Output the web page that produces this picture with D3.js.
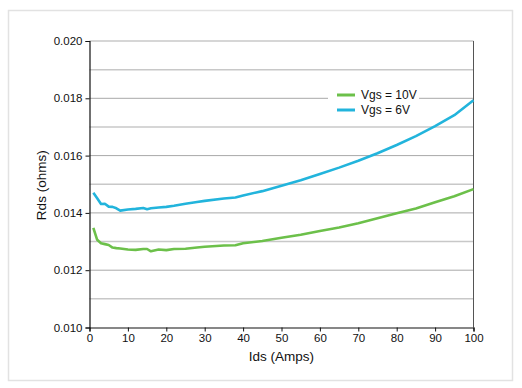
<!DOCTYPE html>
<html>
<head>
<meta charset="utf-8">
<script src="https://cdn.jsdelivr.net/npm/d3@7"></script>
<style>
  body { margin: 0; background: #fff; }
  svg { display: block; font-family: "Liberation Sans", Arial, Helvetica, sans-serif; }
</style>
</head>
<body>
<svg id="chart" width="522" height="388"></svg>
<script>
// currents (A) where the curves were read
const ids = [1, 2, 3, 4, 5, 6, 7, 8, 10, 12, 14, 15, 16, 18, 20, 22, 25, 28, 30, 35, 38, 40, 45, 50, 55, 60, 65, 70, 75, 80, 85, 90, 95, 100];
const rds10 = [0.01348, 0.01306, 0.01294, 0.01291, 0.01288, 0.01279, 0.01277, 0.01276, 0.01272, 0.01271, 0.01274, 0.01274, 0.01266, 0.01272, 0.01270, 0.01274, 0.01275, 0.01279, 0.01282, 0.01286, 0.01287, 0.01294, 0.01302, 0.01313, 0.01324, 0.01337, 0.01349, 0.01364, 0.01381, 0.01399, 0.01415, 0.01437, 0.01458, 0.01483];
const rds6 = [0.01470, 0.01451, 0.01431, 0.01432, 0.01422, 0.01421, 0.01416, 0.01408, 0.01412, 0.01414, 0.01417, 0.01413, 0.01416, 0.01419, 0.01421, 0.01425, 0.01432, 0.01438, 0.01442, 0.01450, 0.01454, 0.01461, 0.01476, 0.01495, 0.01514, 0.01536, 0.01558, 0.01582, 0.01608, 0.01637, 0.01668, 0.01703, 0.01741, 0.01793];
const seriesNames = ["Vgs = 10V", "Vgs = 6V"];
const seriesColors = ["#6cc04a", "#22b4dc"];
const yTicks = [0.010, 0.012, 0.014, 0.016, 0.018, 0.020];
const yMinor = [0.011, 0.013, 0.015, 0.017, 0.019];

const svg = d3.select("#chart");
const plot = {left: 89.5, right: 473.5, top: 41, bottom: 327.5};

// outer frame
svg.append("rect")
    .attr("x", 8.5).attr("y", 10.5)
    .attr("width", 504).attr("height", 370)
    .attr("fill", "none")
    .attr("stroke", "#e2e2e2")
    .attr("stroke-width", 1.5);

const x = d3.scaleLinear().domain([0, 100]).range([plot.left, plot.right]);
const y = d3.scaleLinear().domain([0.010, 0.020]).range([plot.bottom, plot.top]);

// gridlines
svg.append("g")
    .selectAll("line")
    .data(yMinor)
    .join("line")
    .attr("x1", plot.left).attr("x2", plot.right)
    .attr("y1", d => y(d)).attr("y2", d => y(d))
    .attr("stroke", "#c8c8c8")
    .attr("stroke-width", 1.5);

svg.append("g")
    .selectAll("line")
    .data(yTicks.slice(1))
    .join("line")
    .attr("x1", plot.left).attr("x2", plot.right)
    .attr("y1", d => y(d)).attr("y2", d => y(d))
    .attr("stroke", d => d === 0.020 ? "#c8c8c8" : "#a8a8a8")
    .attr("stroke-width", d => d === 0.020 ? 1.5 : 1);

// right border
svg.append("line")
    .attr("x1", plot.right).attr("x2", plot.right)
    .attr("y1", plot.top).attr("y2", plot.bottom)
    .attr("stroke", "#555")
    .attr("stroke-width", 1);

// axes
const xAxis = svg.append("g")
    .attr("transform", `translate(0,${plot.bottom})`)
    .call(d3.axisBottom(x).tickValues(d3.range(0, 101, 10)).tickSize(4).tickPadding(2));
const yAxis = svg.append("g")
    .attr("transform", `translate(${plot.left},0)`)
    .call(d3.axisLeft(y).tickValues(yTicks).tickFormat(d3.format(".3f")).tickSize(4).tickPadding(3));

[xAxis, yAxis].forEach(a => {
    a.select(".domain").attr("stroke", "#111").attr("stroke-width", 1.2);
    a.selectAll(".tick line").attr("stroke", "#111");
    a.selectAll("text")
        .attr("font-family", "'Liberation Sans', Arial, sans-serif")
        .attr("font-size", 11.5)
        .attr("fill", "#111");
});

// axis titles
svg.append("text")
    .attr("x", (plot.left + plot.right) / 2)
    .attr("y", 361)
    .attr("text-anchor", "middle")
    .attr("font-size", 13.5)
    .attr("fill", "#111")
    .text("Ids (Amps)");

svg.append("text")
    .attr("transform", `translate(46,${(plot.top + plot.bottom) / 2 + 1}) rotate(-90)`)
    .attr("text-anchor", "middle")
    .attr("font-size", 13.5)
    .attr("fill", "#111")
    .text("Rds (ohms)");

// curves
const line = d3.line()
    .x((d, i) => x(ids[i]))
    .y(d => y(d));

svg.append("g")
    .selectAll("path")
    .data([rds10, rds6])
    .join("path")
    .attr("d", line)
    .attr("fill", "none")
    .attr("stroke", (d, i) => seriesColors[i])
    .attr("stroke-width", 2.6)
    .attr("stroke-linejoin", "round");

// legend
const legend = svg.append("g").attr("transform", "translate(328,85)");
legend.append("rect")
    .attr("width", 91).attr("height", 34)
    .attr("fill", "#fff");
const items = legend.selectAll("g")
    .data(seriesNames)
    .join("g")
    .attr("transform", (d, i) => `translate(0,${10 + i * 15})`);
items.append("line")
    .attr("x1", 9).attr("x2", 27)
    .attr("stroke", (d, i) => seriesColors[i])
    .attr("stroke-width", 3);
items.append("text")
    .attr("x", 33)
    .attr("dy", "0.35em")
    .attr("font-size", 12)
    .attr("fill", "#111")
    .text(d => d);
</script>
</body>
</html>
